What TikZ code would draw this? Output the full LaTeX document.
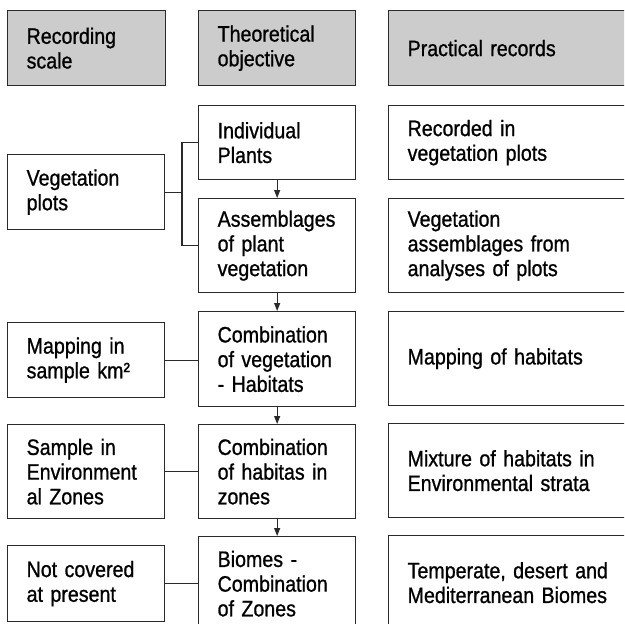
\documentclass[tikz,border=0pt]{standalone}
\usepackage{fontspec}
\setmainfont{Liberation Sans}[FakeStretch=0.88,FakeBold=0.9]
\usetikzlibrary{arrows.meta}
\definecolor{linec}{HTML}{2A2A2A}
\definecolor{headfill}{HTML}{CCCCCC}
\begin{document}
\begin{tikzpicture}[x=1pt,y=-1pt,
  box/.style={draw=linec, line width=1.3pt, fill=white, align=left, anchor=north west,
    inner xsep=19pt, inner ysep=0pt, font=\fontsize{22.3}{24.7}\selectfont},
  narrowbox/.style={box, text width=119pt},
  widebox/.style={box, text width=222pt},
  headbox/.style={fill=headfill},
  conn/.style={draw=linec, line width=1.3pt},
  arr/.style={conn, -{Triangle[length=8pt,width=6pt]}}]
\useasboundingbox (0,0) rectangle (624,624);
\clip (0,0) rectangle (624,624);
% header
\node[narrowbox, headbox, text width=120pt, minimum height=75pt] (h1) at (7,10) {Recording\\scale};
\node[narrowbox, headbox, minimum height=75pt] (h2) at (198,10) {Theoretical\\objective};
\node[widebox, headbox, minimum height=75pt] (h3) at (388,10) {Practical records};
% left column
\node[narrowbox, minimum height=75pt] (l1) at (7,154) {Vegetation\\plots};
\node[narrowbox, minimum height=75pt] (l2) at (7,322) {Mapping in\\sample km²};
\node[narrowbox, minimum height=94pt] (l3) at (7,424) {Sample in\\Environment\\al Zones};
\node[narrowbox, minimum height=76pt] (l4) at (7,545) {Not covered\\at present};
% middle column
\node[narrowbox, minimum height=74pt] (m1) at (198,105) {Individual\\Plants};
\node[narrowbox, minimum height=94pt] (m2) at (198,198) {Assemblages\\of plant\\vegetation};
\node[narrowbox, minimum height=95pt] (m3) at (198,311) {Combination\\of vegetation\\- Habitats};
\node[narrowbox, minimum height=94pt] (m4) at (198,424) {Combination\\of habitas in\\zones};
\node[narrowbox, minimum height=94pt] (m5) at (198,536) {Biomes -\\Combination\\of Zones};
% right column
\node[widebox, minimum height=74pt] (r1) at (388,105) {Recorded in\\vegetation plots};
\node[widebox, minimum height=94pt] (r2) at (388,198) {Vegetation\\assemblages from\\analyses of plots};
\node[widebox, minimum height=94pt] (r3) at (388,311) {Mapping of habitats};
\node[widebox, minimum height=94pt] (r4) at (388,423) {Mixture of habitats in\\Environmental strata};
\node[widebox, minimum height=94pt] (r5) at (388,535) {Temperate, desert and\\Mediterranean Biomes};
% bracket
\coordinate (bx) at (182,0);
\draw[conn] (l1.east) -- (l1.east -| bx);
\draw[conn] (m1.west) -- (m1.west -| bx) -- (m2.west -| bx) -- (m2.west);
% horizontal links
\draw[conn] (l2.east) -- (l2.east -| m3.west);
\draw[conn] (l3.east) -- (l3.east -| m4.west);
\draw[conn] (l4.east) -- (l4.east -| m5.west);
% arrows
\draw[arr] (m1.south) -- (m2.north);
\draw[arr] (m2.south) -- (m3.north);
\draw[arr] (m3.south) -- (m4.north);
\draw[arr] (m4.south) -- (m5.north);
\end{tikzpicture}
\end{document}
